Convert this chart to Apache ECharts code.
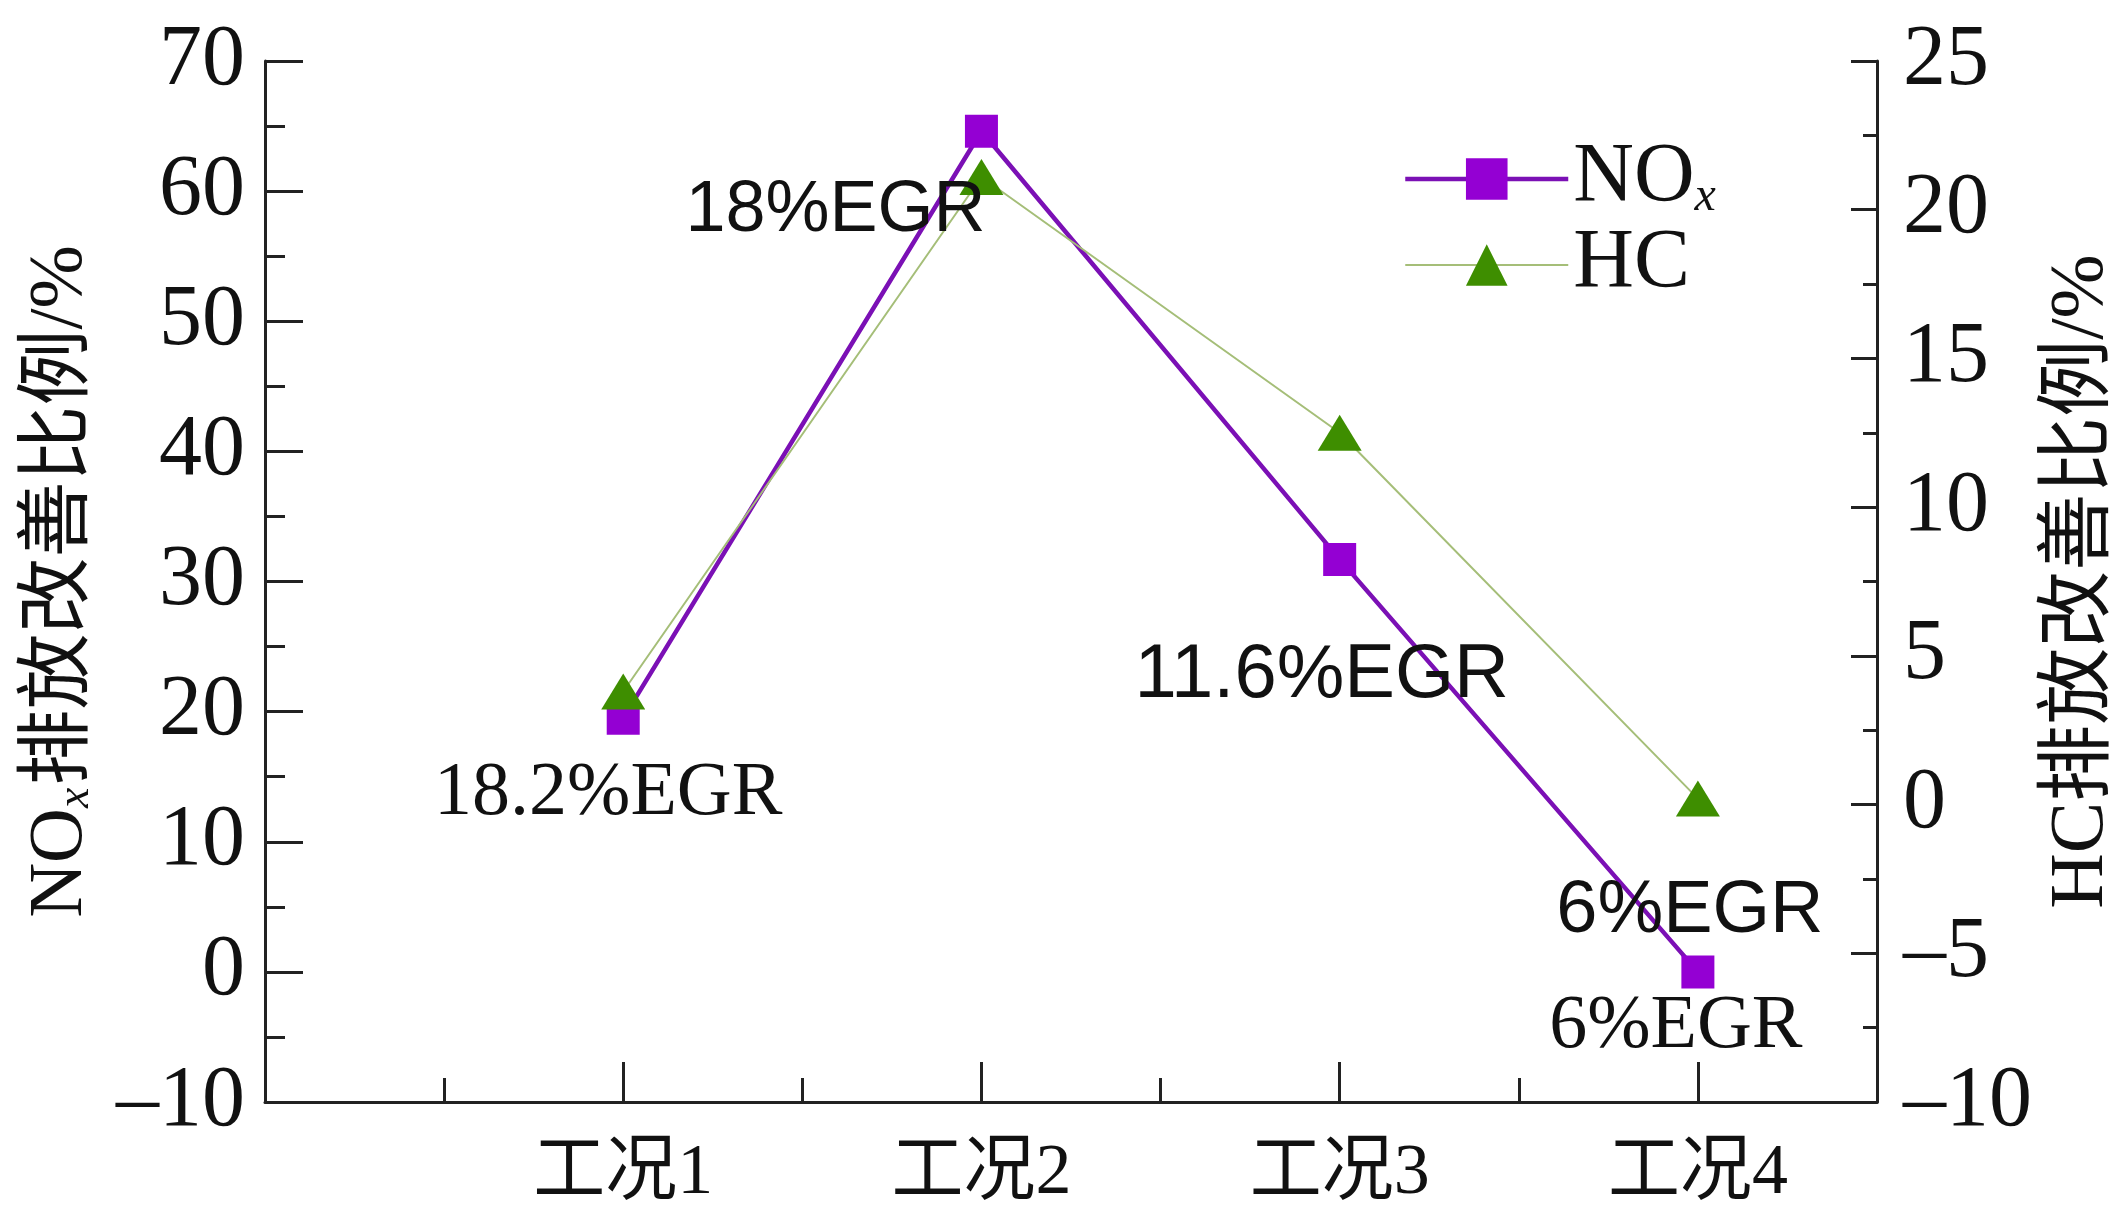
<!DOCTYPE html>
<html>
<head>
<meta charset="utf-8">
<script src="https://cdn.jsdelivr.net/npm/echarts@6/dist/echarts.min.js"></script>
<style>html,body{margin:0;padding:0;background:#fff}#c{width:2128px;height:1221px}</style>
</head>
<body>
<div id="c"></div>
<script>
const categories = ['工况1', '工况2', '工况3', '工况4'];
const noxValues = [19.5, 64.6, 31.7, 0.0];
const hcValues = [3.8, 21.1, 12.5, 0.2];
const noxLabels = ['18.2%EGR', '', '', '6%EGR'];
const hcLabels = ['', '18%EGR', '11.6%EGR', '6%EGR'];
const leftTicks = { min: -10, max: 70, interval: 10 };
const rightTicks = { min: -10, max: 25, interval: 5 };

const SERIF = "'Liberation Serif', 'Times New Roman', 'Noto Sans CJK SC', serif";
const SANS = "'Liberation Sans', Arial, sans-serif";
const fmtNum = v => v < 0 ? '\u2013' + Math.abs(v) : String(v);

const noxLabelOffsets = [[-15, 76], null, null, [-22, 55]];
const hcLabelOffsets = [null, [-146, 34], [-18, 243], [-8, 113]];
const hcLabelSizes = [0, 72, 76, 74];

const noxData = categories.map((c, i) => {
  const item = { value: [i + 1, noxValues[i]] };
  if (noxLabels[i]) {
    item.label = { show: true, formatter: noxLabels[i], position: 'inside', offset: noxLabelOffsets[i],
      fontFamily: SERIF, fontSize: 76, color: '#111' };
  }
  return item;
});
const hcData = categories.map((c, i) => {
  const item = { value: [i + 1, hcValues[i]] };
  if (hcLabels[i]) {
    item.label = { show: true, formatter: hcLabels[i], position: 'inside', offset: hcLabelOffsets[i],
      fontFamily: SANS, fontSize: hcLabelSizes[i], color: '#111' };
  }
  return item;
});

const makeRich = (big, small, drop) => ({
  a: { fontFamily: SERIF, fontSize: big, color: '#111', verticalAlign: 'top', lineHeight: big },
  b: { fontFamily: SERIF, fontSize: small, fontStyle: 'italic', color: '#111', verticalAlign: 'bottom', lineHeight: small, padding: [drop, 2, 0, 0] }
});

const chart = echarts.init(document.getElementById('c'), null, { renderer: 'canvas' });
chart.setOption({
  backgroundColor: '#fff',
  animation: false,
  grid: { left: 265, right: 251, top: 61, bottom: 119, containLabel: false, outerBoundsMode: 'none' },
  legend: {
    orient: 'vertical', left: 1398, top: 104, itemWidth: 163, itemHeight: 52, itemGap: 2,
    data: [
      { name: 'NOx', lineStyle: { width: 4.5, color: '#7B10B5' } },
      { name: 'HC', lineStyle: { width: 2.2, color: '#A5BE78' } }
    ],
    formatter: n => n === 'NOx' ? '{a|NO}{b|x}' : '{a|HC}',
    textStyle: { rich: makeRich(84, 48, 64) }
  },
  xAxis: [
    {
      type: 'value', min: 0, max: 4.5, interval: 1,
      axisLine: { show: true, onZero: false, lineStyle: { color: '#222', width: 3 } },
      axisTick: { show: true, inside: true, length: 40, lineStyle: { color: '#222', width: 3 } },
      axisLabel: { show: true, margin: 36, fontFamily: SERIF, fontSize: 72, color: '#111',
        formatter: v => categories[v - 1] || '' },
      splitLine: { show: false }
    },
    {
      type: 'value', min: 0, max: 4.5, interval: 0.5, position: 'bottom',
      axisLine: { show: false, onZero: false },
      axisTick: { show: true, inside: true, length: 24, lineStyle: { color: '#222', width: 3 } },
      axisLabel: { show: false },
      splitLine: { show: false }
    }
  ],
  yAxis: [
    {
      type: 'value', min: leftTicks.min, max: leftTicks.max, interval: leftTicks.interval, position: 'left',
      name: '{a|NO}{b|x}{a|排放改善比例/%}', nameLocation: 'middle', nameGap: 166, nameRotate: 90,
      nameTextStyle: { rich: makeRich(76, 46, 46) },
      axisLine: { show: true, onZero: false, lineStyle: { color: '#222', width: 3 } },
      axisTick: { show: true, inside: true, length: 38, lineStyle: { color: '#222', width: 3 } },
      minorTick: { show: true, splitNumber: 2, length: 20, lineStyle: { color: '#222', width: 3 } },
      axisLabel: { margin: 20, fontFamily: SERIF, fontSize: 86, color: '#111', formatter: fmtNum },
      splitLine: { show: false }
    },
    {
      type: 'value', min: rightTicks.min, max: rightTicks.max, interval: rightTicks.interval, position: 'right',
      name: 'HC排放改善比例/%', nameLocation: 'middle', nameGap: 162, nameRotate: 90,
      nameTextStyle: { fontFamily: SERIF, fontSize: 77, color: '#111' },
      axisLine: { show: true, onZero: false, lineStyle: { color: '#222', width: 3 } },
      axisTick: { show: true, inside: true, length: 26, lineStyle: { color: '#222', width: 3 } },
      minorTick: { show: true, splitNumber: 2, length: 14, lineStyle: { color: '#222', width: 3 } },
      axisLabel: { margin: 26, fontFamily: SERIF, fontSize: 86, color: '#111', formatter: fmtNum },
      splitLine: { show: false }
    }
  ],
  series: [
    {
      name: 'NOx', type: 'line', xAxisIndex: 0, yAxisIndex: 0, data: noxData,
      symbol: 'rect', symbolSize: 33,
      lineStyle: { color: '#7B10B5', width: 4.5 },
      itemStyle: { color: '#9400D3' },
      z: 2
    },
    {
      name: 'HC', type: 'line', xAxisIndex: 0, yAxisIndex: 1, data: hcData,
      symbol: 'triangle', symbolSize: [44, 36],
      lineStyle: { color: '#A5BE78', width: 2 },
      itemStyle: { color: '#3E8E00' },
      z: 3
    }
  ]
});
</script>
</body>
</html>
